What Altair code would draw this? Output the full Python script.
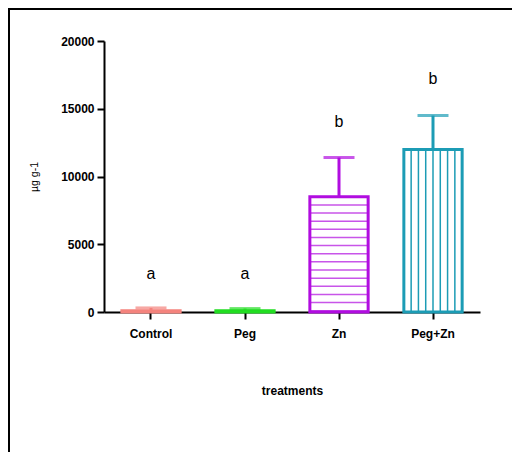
import altair as alt
import pandas as pd

treatments = ["Control", "Peg", "Zn", "Peg+Zn"]
means = [100, 100, 8500, 12000]
err_top = [300, 250, 11400, 14500]
letters = ["a", "a", "b", "b"]
letter_pos = [2800, 2800, 14000, 17200]
colors = ["#F4837D", "#22DD22", "#B10DE0", "#1C9CB5"]
y_ticks = [0, 5000, 10000, 15000, 20000]

df = pd.DataFrame({"treat": treatments, "mean": means, "top": err_top,
                   "letter": letters, "lpos": letter_pos})

# decorative hatch lines (pattern fill imitation)
hatch_step = 600
zn_mean = means[2]
h_vals = []
v = zn_mean - hatch_step
while v > 0:
    h_vals.append(v)
    v -= hatch_step
hatch_h = pd.DataFrame({"treat": ["Zn"] * len(h_vals), "v": h_vals})
pz = df[df.treat == "Peg+Zn"]

W, H = 376, 271
PAD = {"left": 96, "top": 33, "right": 32, "bottom": 140}

xscale = alt.Scale(domain=treatments, paddingInner=0.38, paddingOuter=0.19)
yscale = alt.Scale(domain=[0, 20000], nice=False)
cscale = alt.Scale(domain=treatments, range=colors)

X = alt.X("treat:N", scale=xscale, sort=treatments,
          axis=alt.Axis(title="treatments", labelAngle=0, labelPadding=9,
                        titlePadding=46, titleFontWeight="bold", titleFontSize=12))
Y = alt.Y("mean:Q", scale=yscale,
          axis=alt.Axis(title="µg  g-1", values=y_ticks, format="d",
                        titleFontWeight="normal", titleFontSize=10.5,
                        titlePadding=21, labelPadding=3))

base = alt.Chart(df)

bars = base.mark_bar(fill="white", strokeWidth=3).encode(
    x=X, y=Y, stroke=alt.Stroke("treat:N", scale=cscale, legend=None))

err = base.mark_rule(strokeWidth=3).encode(
    x=alt.X("treat:N", scale=xscale, sort=treatments),
    y="mean:Q", y2="top:Q",
    color=alt.Color("treat:N", scale=cscale, legend=None))

caps = base.mark_tick(thickness=3, size=31, orient="horizontal").encode(
    x=alt.X("treat:N", scale=xscale, sort=treatments),
    y=alt.Y("top:Q", scale=yscale),
    color=alt.Color("treat:N", scale=cscale, legend=None))

hl = alt.Chart(hatch_h).mark_tick(thickness=1.5, size=58, orient="horizontal",
                                  color=colors[2]).encode(
    x=alt.X("treat:N", scale=xscale, sort=treatments),
    y=alt.Y("v:Q", scale=yscale))

vlayers = []
for i in range(1, 8):
    vlayers.append(alt.Chart(pz).mark_rule(strokeWidth=1.5, color=colors[3]).encode(
        x=alt.X("treat:N", scale=xscale, sort=treatments, bandPosition=i / 8),
        y=alt.Y("mean:Q", scale=yscale), y2=alt.datum(0)))

txt = base.mark_text(fontSize=16, font="Liberation Sans", color="black").encode(
    x=alt.X("treat:N", scale=xscale, sort=treatments),
    y=alt.Y("lpos:Q", scale=yscale), text="letter:N")

one = alt.Data(values=[{}])
frame_left = alt.Chart(one).mark_rule(color="black", strokeWidth=2).encode(
    x=alt.value(-PAD["left"] + 1), y=alt.value(-PAD["top"]),
    y2=alt.value(H + PAD["bottom"]))
frame_top = alt.Chart(one).mark_rule(color="black", strokeWidth=2).encode(
    x=alt.value(-PAD["left"]), x2=alt.value(W + PAD["right"]),
    y=alt.value(-PAD["top"] + 1))

chart = alt.layer(bars, hl, *vlayers, err, caps, txt, frame_left, frame_top).properties(
    width=W, height=H,
    autosize=alt.AutoSizeParams(type="none"),
    padding=PAD,
).configure_view(stroke=None).configure_axis(
    grid=False, domainColor="black", domainWidth=2, tickColor="black", tickWidth=2,
    tickSize=7, labelFont="Liberation Sans", labelFontWeight="bold", labelFontSize=12,
    labelColor="black", titleFont="Liberation Sans", titleColor="black",
)

chart.save("out.html", embed_options={"renderer": "svg", "actions": False})
